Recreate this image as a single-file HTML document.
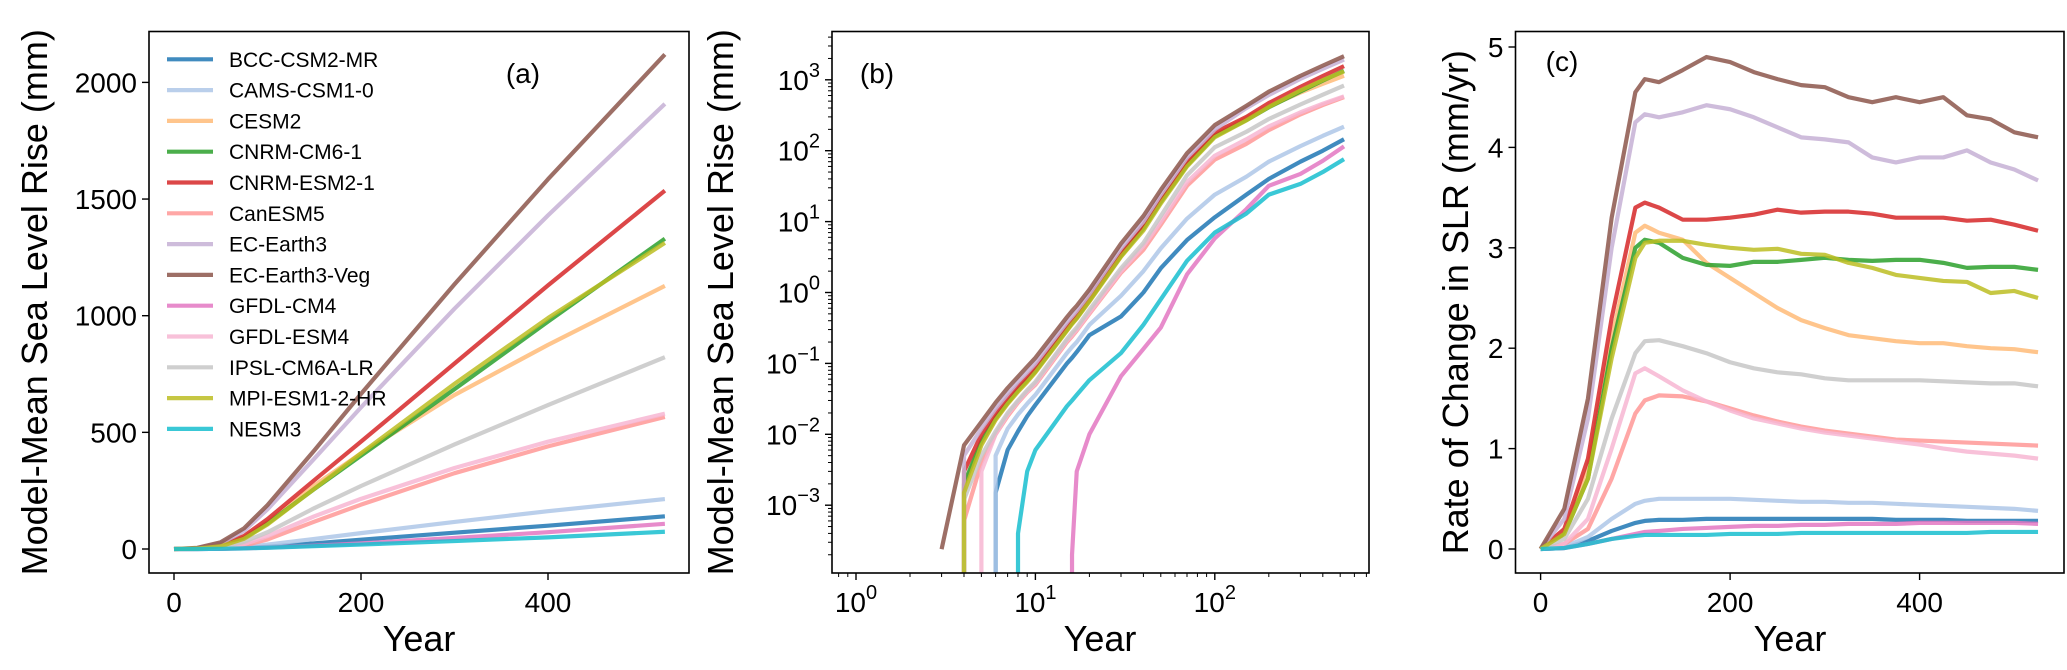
<!DOCTYPE html>
<html><head><meta charset="utf-8"><style>
html,body{margin:0;padding:0;background:#fff;width:2067px;height:670px;overflow:hidden;}
svg{display:block;font-family:"Liberation Sans",sans-serif;}
</style></head><body>
<svg id="fig" width="2067" height="670" viewBox="0 0 2067 670" xmlns="http://www.w3.org/2000/svg"></svg>
<script>
// ---------- data ----------
const models = ["BCC-CSM2-MR","CAMS-CSM1-0","CESM2","CNRM-CM6-1","CNRM-ESM2-1","CanESM5","EC-Earth3","EC-Earth3-Veg","GFDL-CM4","GFDL-ESM4","IPSL-CM6A-LR","MPI-ESM1-2-HR","NESM3"];
const colors = ["#1f77b4","#aec7e8","#ffbb78","#2ca02c","#d62728","#ff9896","#c5b0d5","#8c564b","#e377c2","#f7b6d2","#c7c7c7","#bcbd22","#17becf"];

// panel (a): cumulative SLR (mm)
const yearsA = [0,25,50,75,100,150,200,300,400,525];
const slrA_BCC   = [0,0.1,1.2,4.5,10,24,40,70,100,140];
const slrA_CAMS  = [0,0.2,2,7.5,19,43,68,116,162,214];
const slrA_CESM2 = [0,2,13,49,115,272,410,660,875,1128];
const slrA_CM6   = [0,2,12,46,109,257,400,685,975,1330];
const slrA_ESM2  = [0,2.5,16,56,128,295,460,795,1130,1536];
const slrA_Can   = [0,0.5,3.5,15,41,117,190,325,440,566];
const slrA_EC3   = [0,4,24,78,170,387,607,1030,1430,1908];
const slrA_ECV   = [0,5,29,89,188,422,665,1135,1585,2120];
const slrA_CM4   = [0,0.1,0.8,2.7,5.8,14,24,47,72,108];
const slrA_ESM4  = [0,0.6,5,21,55,140,215,347,460,580];
const slrA_IPSL  = [0,1,8,31,72,175,270,448,617,822];
const slrA_MPI   = [0,2,12,44,105,258,410,708,990,1312];
const slrA_NESM  = [0,0.1,0.8,2.6,5.5,12,19,34,50,74];
const seriesA = [slrA_BCC,slrA_CAMS,slrA_CESM2,slrA_CM6,slrA_ESM2,slrA_Can,slrA_EC3,slrA_ECV,slrA_CM4,slrA_ESM4,slrA_IPSL,slrA_MPI,slrA_NESM];

// panel (b): log-log view (1e-5 = below visible range)
const yearsB = [3,4,5,6,7,8,9,10,15,16,17,20,30,40,50,70,100,150,200,300,400,525];
const Z = 1e-5;
const slrB_BCC   = [Z,Z,Z,1.5e-3,6e-3,1.1e-2,1.8e-2,0.026,0.1,0.12,0.145,0.25,0.46,1.0,2.2,5.5,11.5,24,40,70,100,145];
const slrB_CAMS  = [Z,Z,Z,5e-3,1.2e-2,1.9e-2,2.7e-2,0.036,0.14,0.17,0.2,0.35,0.9,2.0,4.2,11,24,43,70,116,162,218];
const slrB_CESM2 = [Z,1.8e-3,7.5e-3,1.6e-2,2.7e-2,4e-2,5.5e-2,0.075,0.29,0.36,0.43,0.75,3.2,8,19,65,165,290,420,660,880,1140];
const slrB_CM6   = [Z,2e-3,8e-3,1.7e-2,2.8e-2,4.2e-2,5.8e-2,0.078,0.3,0.37,0.44,0.78,3.3,8,19,62,160,270,410,685,975,1340];
const slrB_ESM2  = [Z,3e-3,1e-2,2e-2,3.3e-2,4.8e-2,6.5e-2,0.088,0.33,0.4,0.48,0.85,3.6,9,21,70,180,300,470,795,1130,1560];
const slrB_Can   = [Z,6e-4,4e-3,1e-2,1.8e-2,2.8e-2,3.9e-2,0.05,0.2,0.24,0.29,0.5,1.9,4,9,32,75,125,195,325,440,570];
const slrB_EC3   = [Z,5e-3,1.2e-2,2.3e-2,3.7e-2,5.5e-2,7.5e-2,0.1,0.38,0.46,0.55,0.95,4.2,10,24,80,200,400,610,1030,1430,1930];
const slrB_ECV   = [2.4e-4,7e-3,1.5e-2,2.8e-2,4.5e-2,6.5e-2,9e-2,0.12,0.45,0.55,0.65,1.1,4.9,12,28,92,230,430,680,1135,1585,2150];
const slrB_CM4   = [Z,Z,Z,Z,Z,Z,Z,Z,Z,2e-4,3e-3,1e-2,0.066,0.16,0.32,1.8,5.8,15,32,47,72,115];
const slrB_ESM4  = [Z,Z,3e-3,1e-2,1.9e-2,2.9e-2,4e-2,0.052,0.21,0.25,0.3,0.52,2.0,4.5,10,36,85,145,220,347,460,585];
const slrB_IPSL  = [Z,1.2e-3,5e-3,1.1e-2,2e-2,3e-2,4.2e-2,0.055,0.22,0.27,0.32,0.57,2.2,5,12,45,112,185,280,448,617,830];
const slrB_MPI   = [Z,1.5e-3,7e-3,1.6e-2,2.7e-2,4e-2,5.5e-2,0.075,0.29,0.36,0.43,0.75,3.2,7.5,18,60,155,268,415,708,990,1310];
const slrB_NESM  = [Z,Z,Z,Z,Z,4e-4,3e-3,6e-3,0.025,0.03,0.036,0.058,0.14,0.35,0.8,2.8,7,13,24,34,50,76];
const seriesB = [slrB_BCC,slrB_CAMS,slrB_CESM2,slrB_CM6,slrB_ESM2,slrB_Can,slrB_EC3,slrB_ECV,slrB_CM4,slrB_ESM4,slrB_IPSL,slrB_MPI,slrB_NESM];

// panel (c): rate of change (mm/yr)
const yearsC = [0,25,50,75,100,110,125,150,175,200,225,250,275,300,325,350,375,400,425,450,475,500,525];
const rate_BCC   = [0,0.01,0.08,0.18,0.26,0.28,0.29,0.29,0.3,0.3,0.3,0.3,0.3,0.3,0.3,0.3,0.29,0.29,0.29,0.28,0.28,0.28,0.28];
const rate_CAMS  = [0,0.02,0.12,0.3,0.45,0.48,0.5,0.5,0.5,0.5,0.49,0.48,0.47,0.47,0.46,0.46,0.45,0.44,0.43,0.42,0.41,0.4,0.38];
const rate_CESM2 = [0,0.15,0.8,2.1,3.15,3.22,3.15,3.08,2.85,2.7,2.55,2.4,2.28,2.2,2.13,2.1,2.07,2.05,2.05,2.02,2.0,1.99,1.96];
const rate_CM6   = [0,0.15,0.7,2.0,3.0,3.08,3.05,2.9,2.83,2.82,2.86,2.86,2.88,2.9,2.88,2.87,2.88,2.88,2.85,2.8,2.81,2.81,2.78];
const rate_ESM2  = [0,0.2,0.9,2.3,3.4,3.45,3.4,3.28,3.28,3.3,3.33,3.38,3.35,3.36,3.36,3.34,3.3,3.3,3.3,3.27,3.28,3.23,3.17];
const rate_Can   = [0,0.05,0.2,0.7,1.35,1.48,1.53,1.52,1.47,1.4,1.33,1.27,1.22,1.18,1.15,1.12,1.09,1.08,1.07,1.06,1.05,1.04,1.03];
const rate_EC3   = [0,0.3,1.3,3.0,4.25,4.33,4.3,4.35,4.42,4.38,4.3,4.2,4.1,4.08,4.05,3.9,3.85,3.9,3.9,3.97,3.85,3.78,3.67];
const rate_ECV   = [0,0.4,1.5,3.3,4.55,4.68,4.65,4.77,4.9,4.85,4.75,4.68,4.62,4.6,4.5,4.45,4.5,4.45,4.5,4.32,4.28,4.15,4.1];
const rate_CM4   = [0,0.01,0.05,0.1,0.15,0.17,0.18,0.2,0.21,0.22,0.23,0.23,0.24,0.24,0.25,0.25,0.25,0.26,0.26,0.26,0.26,0.26,0.25];
const rate_ESM4  = [0,0.05,0.3,1.0,1.75,1.8,1.72,1.58,1.47,1.38,1.3,1.25,1.2,1.16,1.13,1.1,1.07,1.04,1.0,0.97,0.95,0.93,0.9];
const rate_IPSL  = [0,0.1,0.5,1.3,1.95,2.07,2.08,2.02,1.95,1.86,1.8,1.76,1.74,1.7,1.68,1.68,1.68,1.68,1.67,1.66,1.65,1.65,1.62];
const rate_MPI   = [0,0.15,0.7,1.9,2.9,3.05,3.07,3.07,3.03,3.0,2.98,2.99,2.94,2.93,2.85,2.8,2.73,2.7,2.67,2.66,2.55,2.57,2.5];
const rate_NESM  = [0,0.01,0.05,0.1,0.13,0.14,0.14,0.14,0.14,0.15,0.15,0.15,0.16,0.16,0.16,0.16,0.16,0.16,0.16,0.16,0.17,0.17,0.17];
const seriesC = [rate_BCC,rate_CAMS,rate_CESM2,rate_CM6,rate_ESM2,rate_Can,rate_EC3,rate_ECV,rate_CM4,rate_ESM4,rate_IPSL,rate_MPI,rate_NESM];

const ticksA_x = [0,200,400];
const ticksA_y = [0,500,1000,1500,2000];
const ticksB_xExp = [0,1,2];
const ticksB_yExp = [-3,-2,-1,0,1,2,3];
const ticksC_x = [0,200,400];
const ticksC_y = [0,1,2,3,4,5];

// ---------- drawing ----------
const NS = "http://www.w3.org/2000/svg";
const svg = document.getElementById("fig");
function mk(tag, attrs, parent){
  const e = document.createElementNS(NS, tag);
  for (const k in attrs) e.setAttribute(k, attrs[k]);
  (parent||svg).appendChild(e);
  return e;
}
const TOP = 31.5, BOT = 573;

const xA = y => 174 + (y/200)*187;
const yA = v => 549 - v*0.2333;
const xB = t => 856 + 179.4*Math.log10(t);
const yB = v => 79.8 + (3 - Math.log10(v))*70.9;
const xC = y => 1540.6 + (y/200)*189.5;
const yC = v => 549 - v*100.4;

function panel(id, left, right, clipId){
  const g = mk("g", {});
  
  
  const cp = mk("clipPath", {id: clipId}, g);
  mk("rect", {x:left, y:TOP, width:right-left, height:BOT-TOP}, cp);
  return g;
}
function frame(g, left, right, name){
  const r = mk("rect", {x:left, y:TOP, width:right-left, height:BOT-TOP, fill:"none", stroke:"#000", "stroke-width":1.6}, g);
  
  
}
function xtick(g, x, label, isLog){
  mk("line", {x1:x, x2:x, y1:BOT, y2:BOT+7, stroke:"#000", "stroke-width":1.4}, g);
  const t = mk("text", {x:x, y:612, "font-size":28, "text-anchor":"middle"}, g);
  
  
  if (isLog){ t.textContent = "10"; const s = mk("tspan", {dy:-13, "font-size":20}, t); s.textContent = label; }
  else t.textContent = label;
}
function ytick(g, left, y, label, isLog){
  mk("line", {x1:left-7, x2:left, y1:y, y2:y, stroke:"#000", "stroke-width":1.4}, g);
  const t = mk("text", {x:left-12, y:y+10, "font-size":28, "text-anchor":"end"}, g);
  
  
  if (isLog){
    t.textContent = "10";
    const s = mk("tspan", {dy:-13, "font-size":20}, t);
    s.textContent = label;
  } else t.textContent = label;
}
function labels(g, xlabelX, ylabelText, ylabX){
  const xl = mk("text", {x:xlabelX, y:651, "font-size":36, "text-anchor":"middle"}, g);
  xl.textContent = "Year";
  
  
  const yl = mk("text", {x:0, y:0, "font-size":36, "text-anchor":"middle", transform:`translate(${ylabX},${(TOP+BOT)/2}) rotate(-90)`}, g);
  yl.textContent = ylabelText;
  
  
}
function series(g, xs, vals, fx, fy, i, clipId, floorVal){
  let d = "";
  vals.forEach((v,j)=>{
    // below-range point right before the first visible value: draw vertical rise
    let xv = xs[j];
    if (floorVal !== undefined && v <= floorVal && j+1 < vals.length && vals[j+1] > floorVal) xv = xs[j+1];
    const px = fx(xv), py = fy(v);
    d += (j? "L":"M") + px.toFixed(2) + " " + py.toFixed(2);
  });
  const p = mk("path", {d:d, fill:"none", stroke:colors[i], "stroke-width":4.2, "stroke-opacity":0.85, "stroke-linejoin":"round", "clip-path":`url(#${clipId})`}, g);
  
  
}

// Panel A
const gA = panel("a", 149, 689, "clipA");
seriesA.forEach((s,i)=>series(gA, yearsA, s, xA, yA, i, "clipA"));
frame(gA, 149, 689, "plot-frame-a");
ticksA_x.forEach(v=>xtick(gA, xA(v), String(v), false));
ticksA_y.forEach(v=>ytick(gA, 149, yA(v), String(v), false));
labels(gA, 419, "Model-Mean Sea Level Rise (mm)", 47);
const ta = mk("text", {x:523, y:83, "font-size":28, "text-anchor":"middle"}, gA);
ta.textContent = "(a)";


const leg = mk("g", {}, gA);


models.forEach((m,i)=>{
  const y = 59.3 + i*30.8;
  const ln = mk("line", {x1:167, x2:213, y1:y, y2:y, stroke:colors[i], "stroke-width":4.2, "stroke-opacity":0.85}, leg);
  
  
  const t = mk("text", {x:229, y:y+7.5, "font-size":21}, leg);
  t.textContent = m;
  
  
});

// Panel B
const gB = panel("b", 832, 1369, "clipB");
seriesB.forEach((s,i)=>series(gB, yearsB, s, xB, yB, i, "clipB", Z));
frame(gB, 832, 1369, "plot-frame-b");
ticksB_xExp.forEach(e=>xtick(gB, xB(Math.pow(10,e)), String(e), true));
ticksB_yExp.forEach(e=>ytick(gB, 832, yB(Math.pow(10,e)), e<0 ? "\u2212"+(-e) : String(e), true));
for (let e=-1;e<3;e++) for (let k=2;k<10;k++){ const x = xB(k*Math.pow(10,e)); if (x>832 && x<1369) mk("line",{x1:x,x2:x,y1:BOT,y2:BOT+4,stroke:"#000","stroke-width":1},gB); }
for (let e=-5;e<4;e++) for (let k=2;k<10;k++){ const y = yB(k*Math.pow(10,e)); if (y>TOP && y<BOT) mk("line",{x1:828,x2:832,y1:y,y2:y,stroke:"#000","stroke-width":1},gB); }
labels(gB, 1100, "Model-Mean Sea Level Rise (mm)", 733);
const tb = mk("text", {x:877, y:83, "font-size":28, "text-anchor":"middle"}, gB);
tb.textContent = "(b)";



// Panel C
const gC = panel("c", 1515.5, 2064, "clipC");
seriesC.forEach((s,i)=>series(gC, yearsC, s, xC, yC, i, "clipC"));
frame(gC, 1515.5, 2064, "plot-frame-c");
ticksC_x.forEach(v=>xtick(gC, xC(v), String(v), false));
ticksC_y.forEach(v=>ytick(gC, 1515.5, yC(v), String(v), false));
labels(gC, 1790, "Rate of Change in SLR (mm/yr)", 1468);
const tc = mk("text", {x:1562, y:71, "font-size":28, "text-anchor":"middle"}, gC);
tc.textContent = "(c)";


</script>
</body></html>
